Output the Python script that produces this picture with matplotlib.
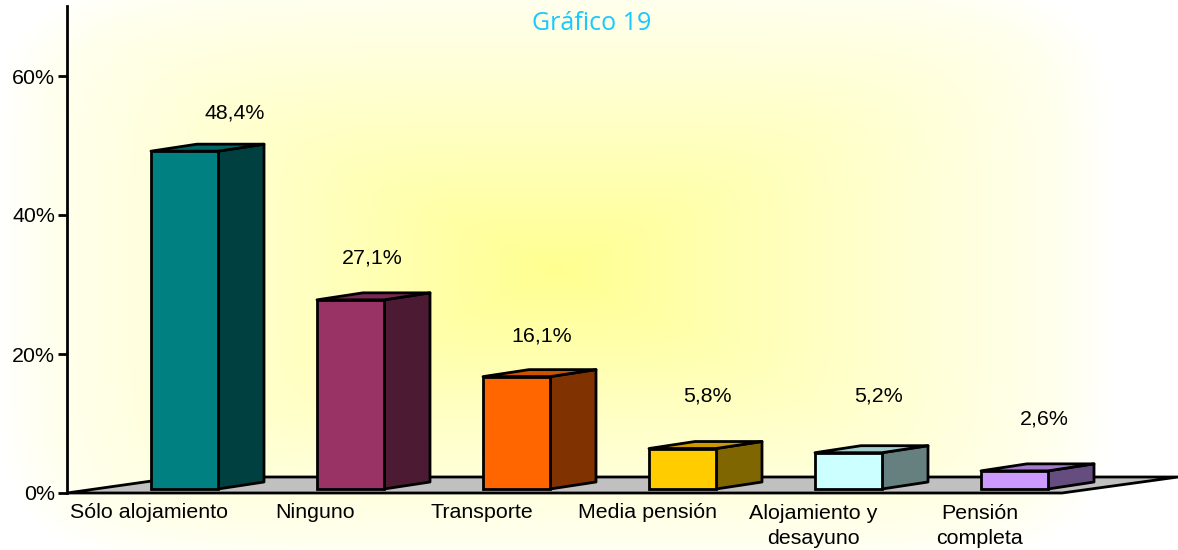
import numpy as np
import matplotlib
matplotlib.use('Agg')
import matplotlib.pyplot as plt
from matplotlib.patches import Polygon

categories = ['Sólo alojamiento', 'Ninguno', 'Transporte', 'Media pensión',
              'Alojamiento y\ndesayuno', 'Pensión\ncompleta']
values = [48.4, 27.1, 16.1, 5.8, 5.2, 2.6]
value_labels = ['48,4%', '27,1%', '16,1%', '5,8%', '5,2%', '2,6%']
y_ticks = [0, 20, 40, 60]
y_tick_labels = ['0%', '20%', '40%', '60%']

front_cols = ['#008080', '#993366', '#FF6600', '#FFCC00', '#CCFFFF', '#CC99FF']
side_cols = ['#004040', '#4D1A33', '#803300', '#806600', '#668080', '#664D80']
top_cols = ['#006666', '#7A2952', '#CC5200', '#CC9900', '#A3CCCC', '#A37ACC']

# label offsets from bar front centre / top, in pixels
label_dx = [50, 22, 25, 25, 30, 30]
label_dy = [38, 42, 41, 53, 57, 52]

W, H = 1178, 550
LW = 2.0
FS = 15.4
plt.rcParams['font.family'] = ['Liberation Sans', 'DejaVu Sans']

fig = plt.figure(figsize=(W / 100, H / 100), dpi=100)
fig.patch.set_facecolor('white')

# ── Background + floor (pixel coords) ─────────────────────────────────────────
bg = fig.add_axes([0, 0, 1, 1])
bg.set_xlim(0, W)
bg.set_ylim(H, 0)
bg.axis('off')

xx, yy = np.meshgrid(np.arange(W), np.arange(H))
p = 6.0
dist = ((np.abs(xx - 555) / 560) ** p + (np.abs(yy - 270) / 300) ** p) ** (1 / p)
dist = np.clip(dist, 0, 1)
img = np.ones((H, W, 3))
img[..., 2] = 1 - 0.40 * (1 - dist) ** 1.1 - 0.035 * np.clip((1 - dist) * 10, 0, 1)
bg.imshow(img, extent=(0, W, H, 0), aspect='auto', zorder=0)

bg.add_patch(Polygon([(67, 493), (1062, 493), (1178, 477), (180, 477)], closed=True,
                     facecolor='#C0C0C0', edgecolor='black', linewidth=LW, zorder=1))
bg.text(592, 23, 'Gráfico 19', color='#19C8FF', fontsize=18, family='Open Sans',
        ha='center', va='center', zorder=2)

# ── Wall axis ─────────────────────────────────────────────────────────────────
wall = fig.add_axes([67 / W, (H - 493) / H, 0.5, 487 / H])
wall.patch.set_alpha(0)
wall.set_ylim(0, 487 / 6.95)
wall.set_xticks([])
wall.set_yticks(y_ticks)
wall.set_yticklabels(y_tick_labels, fontsize=FS)
wall.tick_params(axis='y', length=6.5, width=LW, pad=2)
for s in ['top', 'right', 'bottom']:
    wall.spines[s].set_visible(False)
wall.spines['left'].set_linewidth(LW)

# ── Bars ──────────────────────────────────────────────────────────────────────
ax = fig.add_axes([0, 0, 1, 1])
ax.patch.set_alpha(0)
ax.axis('off')
spacing, y_scale = 166.0, 6.98
ax.set_xlim(-184.5 / spacing, (W - 184.5) / spacing)
ax.set_ylim(-(H - 489) / y_scale, 489 / y_scale)

x = np.arange(len(categories))
bar_w = 67 / spacing
dx, dy = 46 / spacing, 7 / y_scale
for i, (xi, v) in enumerate(zip(x, values)):
    l, r = xi - bar_w / 2, xi + bar_w / 2
    ax.add_patch(Polygon([(r, 0), (r + dx, dy), (r + dx, v + dy), (r, v)], closed=True,
                         facecolor=side_cols[i], edgecolor='black', linewidth=LW,
                         joinstyle='round', zorder=3))
    ax.add_patch(Polygon([(l, v), (r, v), (r + dx, v + dy), (l + dx, v + dy)], closed=True,
                         facecolor=top_cols[i], edgecolor='black', linewidth=LW,
                         joinstyle='round', zorder=3))
    ax.bar(xi, v, width=bar_w, color=front_cols[i], edgecolor='black',
           linewidth=LW, zorder=4)
    ax.annotate(value_labels[i], (xi, v), xytext=(label_dx[i], label_dy[i]),
                textcoords='offset pixels', ha='center', va='center', fontsize=FS,
                color='black', zorder=5)
    two_lines = '\n' in categories[i]
    ax.annotate(categories[i], (xi, 0), xytext=(-35, -37 if two_lines else -23),
                textcoords='offset pixels', ha='center', va='center',
                fontsize=FS, color='black', zorder=5, linespacing=1.45)

fig.savefig('out.png', dpi=100, facecolor='white')
